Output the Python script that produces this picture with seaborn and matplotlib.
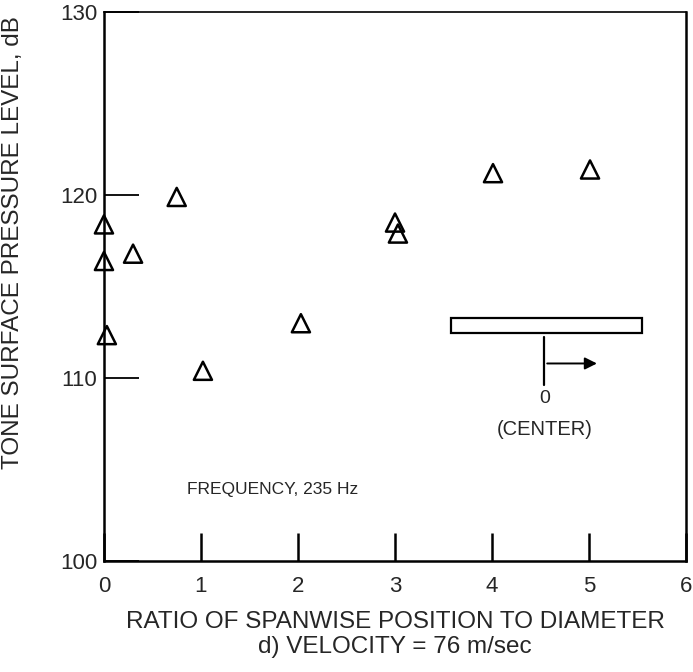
import matplotlib
matplotlib.use("Agg")
import matplotlib.pyplot as plt
import seaborn as sns
import pandas as pd
from matplotlib.patches import Rectangle

sns.set_theme(style="white")
plt.rcParams['font.family'] = ['Liberation Sans', 'DejaVu Sans']

# Data
ratio = [0.0, 0.0, 0.03, 0.30, 0.75, 1.02, 2.03, 3.00, 3.03, 4.01, 5.01]
level = [118.4, 116.4, 112.35, 116.8, 119.9, 110.4, 113.0, 118.5, 117.9, 121.2, 121.4]
x_ticks = [0, 1, 2, 3, 4, 5, 6]
y_ticks = [100, 110, 120, 130]
x_label = "RATIO OF SPANWISE POSITION TO DIAMETER\nd) VELOCITY = 76 m/sec"
y_label = "TONE SURFACE PRESSURE LEVEL, dB"
note = "FREQUENCY, 235 Hz"

df = pd.DataFrame({"ratio": ratio, "level": level})

fig = plt.figure(figsize=(6.93, 6.72), dpi=100)
ax = fig.add_axes([0.150, 0.165, 0.840, 0.817])

sns.scatterplot(data=df, x="ratio", y="level", marker="^", s=170, ax=ax,
                color="black", linewidth=1.8, clip_on=False, zorder=5)
coll = ax.collections[0]
coll.set_facecolor("none")
coll.set_edgecolor("black")
coll.set_linewidth(1.8)

ax.set_xlim(0, 6)
ax.set_ylim(100, 130)
ax.set_xticks(x_ticks)
ax.set_yticks(y_ticks)
ax.set_xticklabels([str(v) for v in x_ticks], fontsize=16)
ax.set_yticklabels([str(v) for v in y_ticks], fontsize=16)
ax.tick_params(axis="x", bottom=True, direction="in", length=20, width=1.8, color="black", pad=11)
ax.tick_params(axis="y", left=True, direction="in", length=25, width=1.3, color="black", pad=5)
for s in ax.spines.values():
    s.set_visible(True)
    s.set_color("black")
    s.set_linewidth(1.8)
ax.spines["top"].set_linewidth(1.2)

ax.set_xlabel(x_label, fontsize=17.5, labelpad=10, linespacing=1.15)
ax.set_ylabel(y_label, fontsize=17.5)
ax.yaxis.set_label_coords(-0.138, 0.58)

ax.text(0.86, 103.9, note, fontsize=12.5, ha="left", va="center")

# inset sketch
ax.add_patch(Rectangle((3.58, 112.46), 1.97, 0.82, fill=False, ec="black", lw=1.6))
ax.plot([4.54, 4.54], [112.24, 109.6], color="black", lw=1.6)
ax.annotate("", xy=(5.11, 110.8), xytext=(4.54, 110.8),
            arrowprops=dict(arrowstyle="-|>", color="black", lw=1.4, mutation_scale=18))
ax.text(4.54, 108.9, "0", fontsize=14, ha="center", va="center")
ax.text(4.54, 107.2, "(CENTER)", fontsize=14.5, ha="center", va="center")

fig.savefig("out.png", dpi=100)
